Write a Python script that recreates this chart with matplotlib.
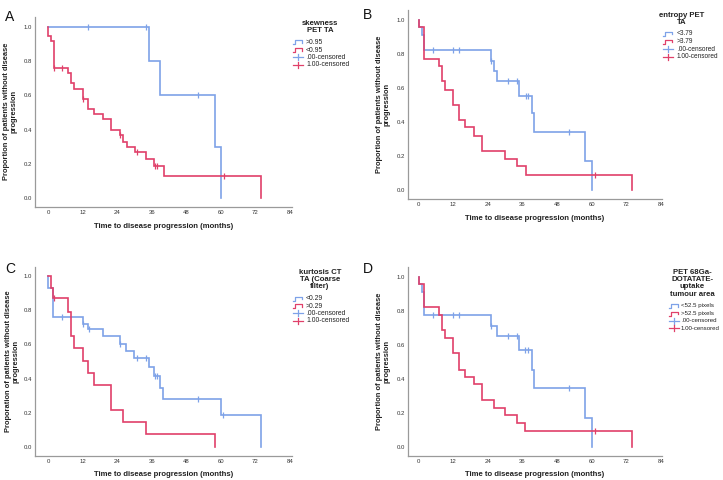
import numpy as np
import matplotlib
matplotlib.use("Agg")
import matplotlib.pyplot as plt
from matplotlib.lines import Line2D

W, H = 723, 480
plt.rcParams['font.family'] = ['Liberation Sans', 'DejaVu Sans']

BLUE = '#7ea2e8'
RED = '#e0406a'

# ---------------- data ----------------
# Panel A: skewness PET TA
A_blue_t = [0, 35, 39, 58, 60]
A_blue_s = [1.0, 0.80, 0.60, 0.30, 0.0]
A_blue_cens = [14, 34, 52]
A_red_t = [0, 0, 1.1, 2, 7, 8, 9, 12, 14, 16, 19, 22, 25, 26, 27.3, 30.2, 34, 36.8, 40.3, 74]
A_red_s = [1.0, 0.95, 0.92, 0.76, 0.73, 0.67, 0.64, 0.58, 0.52, 0.49, 0.46, 0.40, 0.37, 0.33, 0.30, 0.27, 0.23, 0.19, 0.13, 0.0]
A_red_cens = [2.1, 5, 12.1, 25.1, 30.9, 37, 38, 61]

# Panel B: entropy PET TA
B_blue_t = [0, 0, 1.04, 1.95, 25.1, 26.1, 27, 34.9, 39.2, 40.1, 57.8, 60.1]
B_blue_s = [1.0, 0.96, 0.91, 0.82, 0.76, 0.70, 0.64, 0.55, 0.45, 0.34, 0.17, 0.0]
B_blue_cens = [5.1, 12, 14, 25.2, 31.1, 34, 37.1, 38, 52.1]
B_red_t = [0, 0, 1.95, 7.15, 8.1, 9, 12, 14, 16, 19, 21.9, 30, 34.1, 37.1, 74]
B_red_s = [1.0, 0.96, 0.77, 0.73, 0.64, 0.59, 0.50, 0.41, 0.37, 0.32, 0.23, 0.18, 0.14, 0.09, 0.0]
B_red_cens = [61]

# Panel C: kurtosis CT TA (Coarse filter)
C_blue_t = [0, 0, 1.85, 12, 14, 19, 25, 27, 30, 35.1, 36.9, 38.9, 40, 60, 73.9]
C_blue_s = [1.0, 0.93, 0.76, 0.72, 0.69, 0.65, 0.60, 0.56, 0.52, 0.47, 0.415, 0.345, 0.28, 0.19, 0.0]
C_blue_cens = [5, 12.1, 14.1, 25.1, 31, 34, 37.1, 38, 52.2, 60.9]
C_red_t = [0, 1.16, 1.85, 6.94, 8, 9, 12, 14, 16, 22, 26, 34, 58]
C_red_s = [1.0, 0.93, 0.87, 0.79, 0.65, 0.58, 0.505, 0.435, 0.365, 0.215, 0.145, 0.075, 0.0]
C_red_cens = [2.0]

# Panel D: PET 68Ga-DOTATATE-uptake tumour area
D_blue_t = [0, 0, 1.04, 1.95, 25.1, 27, 34.9, 39.2, 40.1, 57.8, 60.1]
D_blue_s = [1.0, 0.96, 0.91, 0.775, 0.71, 0.65, 0.57, 0.455, 0.345, 0.17, 0.0]
D_blue_cens = [5.1, 12, 14, 25.2, 31, 34, 37, 38, 52.1]
D_red_t = [0, 0, 1.95, 7.15, 8.1, 9, 12, 14, 16, 19, 22, 26, 30, 34, 37, 74]
D_red_s = [1.0, 0.96, 0.82, 0.775, 0.685, 0.64, 0.55, 0.455, 0.41, 0.37, 0.275, 0.23, 0.185, 0.14, 0.095, 0.0]
D_red_cens = [61]

x_ticks = [0, 12, 24, 36, 48, 60, 72, 84]
y_ticks = [0.0, 0.2, 0.4, 0.6, 0.8, 1.0]

panels = [
    dict(letter='A', title='skewness\nPET TA', labels=['>0.95', '<0.95'],
         ylabel='Proportion of patients without disease\nprogression',
         blue=(A_blue_t, A_blue_s, A_blue_cens), red=(A_red_t, A_red_s, A_red_cens),
         box=(35.3, 292, 16.7, 206.7), x0=48, y1=27, y0=198,
         letter_xy=(5, 10), ylab_x=10.5, xlab_y=226,
         leg_title_xy=(320, 20), leg_rows=[42.3, 50, 57.3, 64.7], leg_icon_x=293, leg_text_x=306,
         leg_fs=4.9),
    dict(letter='B', title='entropy PET\nTA', labels=['<3.79', '>3.79'],
         ylabel='Proportion of patients without disease\nprogression',
         blue=(B_blue_t, B_blue_s, B_blue_cens), red=(B_red_t, B_red_s, B_red_cens),
         box=(408.3, 661.7, 10, 199), x0=418.7, y1=19.7, y0=190,
         letter_xy=(363, 8), ylab_x=383, xlab_y=218.5,
         leg_title_xy=(681.7, 12), leg_rows=[33.7, 41.7, 49.3, 56.7], leg_icon_x=663, leg_text_x=677,
         leg_fs=4.7),
    dict(letter='C', title='kurtosis CT\nTA (Coarse\nfilter)', labels=['<0.29', '>0.29'],
         ylabel='Proporation of patients without disease\nprogression',
         blue=(C_blue_t, C_blue_s, C_blue_cens), red=(C_red_t, C_red_s, C_red_cens),
         box=(35.3, 292, 266.7, 456), x0=48, y1=276, y0=447,
         letter_xy=(5, 262), ylab_x=12, xlab_y=474.5,
         leg_title_xy=(320, 269), leg_rows=[298.7, 306, 313.3, 321], leg_icon_x=293, leg_text_x=306,
         leg_fs=4.9),
    dict(letter='D', title='PET 68Ga-\nDOTATATE-\nuptake\ntumour area', labels=['<52.5 pixels', '>52.5 pixels'],
         ylabel='Proportion of patients without disease\nprogression',
         blue=(D_blue_t, D_blue_s, D_blue_cens), red=(D_red_t, D_red_s, D_red_cens),
         box=(408.3, 661.7, 266.7, 456), x0=418.7, y1=276.7, y0=447,
         letter_xy=(363, 262), ylab_x=383.3, xlab_y=475,
         leg_title_xy=(692.3, 269), leg_rows=[306, 313.7, 321, 328.3], leg_icon_x=669, leg_text_x=681,
         leg_fs=4.4),
]

fig = plt.figure(figsize=(W / 100, H / 100), dpi=100)


def fx(x):
    return x / W


def fy(y):
    return 1 - y / H


def step_value(t, s, c):
    i = np.searchsorted(np.asarray(t), c, side='right') - 1
    return np.asarray(s)[i]


for p in panels:
    l, r, top, bot = p['box']
    ax = fig.add_axes([fx(l), fy(bot), fx(r) - fx(l), fy(top) - fy(bot)])
    mpx = 2.881 if p['x0'] == 48 else 2.885
    ax.set_xlim((l - p['x0']) / mpx, (r - p['x0']) / mpx)
    upx = p['y0'] - p['y1']
    ax.set_ylim((p['y0'] - bot) / upx, (p['y0'] - top) / upx)

    for (t, s, cens), col in [(p['blue'], BLUE), (p['red'], RED)]:
        ax.step(t, s, where='post', color=col, lw=1.2, solid_joinstyle='miter')
        cy = [step_value(t, s, c) for c in cens]
        ax.plot(cens, cy, linestyle='none', marker='|', markersize=4,
                markeredgewidth=0.9, color=col)

    for side in ['top', 'right']:
        ax.spines[side].set_visible(False)
    for side in ['left', 'bottom']:
        ax.spines[side].set_color('#9a9a9a')
        ax.spines[side].set_linewidth(0.9)
    ax.set_xticks(x_ticks)
    ax.set_xticklabels([str(v) for v in x_ticks])
    ax.set_yticks(y_ticks)
    ax.set_yticklabels([f'{v:.1f}' for v in y_ticks])
    ax.tick_params(length=0, labelsize=4.3, colors='#333333', pad=2.5)
    ax.patch.set_visible(False)

    # labels
    fig.text(fx(p['ylab_x']), fy((top + bot) / 2), p['ylabel'], rotation=90,
             ha='center', va='center', multialignment='center',
             fontsize=5.4, fontweight='bold', color='#222222', linespacing=1.1)
    fig.text(fx((l + r) / 2), fy(p['xlab_y']), 'Time to disease progression (months)',
             ha='center', va='center', fontsize=5.6, fontweight='bold', color='#222222')
    fig.text(fx(p['letter_xy'][0]), fy(p['letter_xy'][1]), p['letter'],
             ha='left', va='top', fontsize=10, color='#111111')

    # legend
    tx, ty = p['leg_title_xy']
    fig.text(fx(tx), fy(ty), p['title'], ha='center', va='top', multialignment='center',
             fontsize=5.6, fontweight='bold', color='#222222', linespacing=1.05)
    ix = p['leg_icon_x']
    texts = p['labels'] + ['.00-censored', '1.00-censored']
    cols = [BLUE, RED, BLUE, RED]
    for k, (yy, txt, col) in enumerate(zip(p['leg_rows'], texts, cols)):
        if k < 2:
            xs = [ix, ix + 1.5, ix + 1.5, ix + 9, ix + 9]
            ys = [yy + 2, yy + 2, yy - 2, yy - 2, yy + 0.5]
            fig.add_artist(Line2D([fx(v) for v in xs], [fy(v) for v in ys],
                                  color=col, lw=0.9, transform=fig.transFigure))
        else:
            fig.add_artist(Line2D([fx(ix), fx(ix + 10)], [fy(yy), fy(yy)],
                                  color=col, lw=0.9, transform=fig.transFigure))
            fig.add_artist(Line2D([fx(ix + 5), fx(ix + 5)], [fy(yy - 3), fy(yy + 3)],
                                  color=col, lw=0.9, transform=fig.transFigure))
        fig.text(fx(p['leg_text_x']), fy(yy), txt, ha='left', va='center',
                 fontsize=p['leg_fs'], color='#222222')

fig.savefig('out.png', dpi=100)
